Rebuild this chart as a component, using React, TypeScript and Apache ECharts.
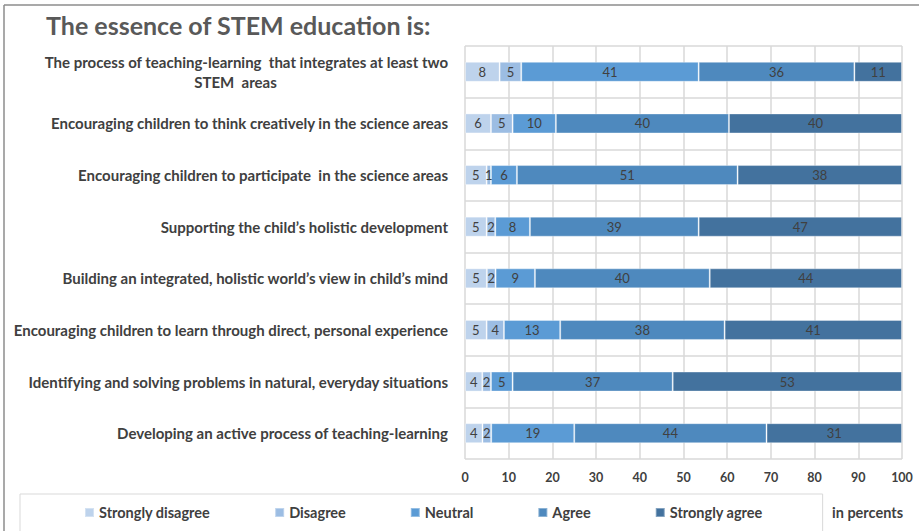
import React, { useEffect, useRef } from "react";
import * as echarts from "echarts";

const categories = [
  "The process of teaching-learning  that integrates at least two\nSTEM  areas",
  "Encouraging children to think creatively in the science areas",
  "Encouraging children to participate  in the science areas",
  "Supporting the child\u2019s holistic development",
  "Building an integrated, holistic world\u2019s view in child\u2019s mind",
  "Encouraging children to learn through direct, personal experience",
  "Identifying and solving problems in natural, everyday situations",
  "Developing an active process of teaching-learning",
];

const seriesNames = ["Strongly disagree", "Disagree", "Neutral", "Agree", "Strongly agree"];
const stronglyDisagree = [8, 6, 5, 5, 5, 5, 4, 4];
const disagree = [5, 5, 1, 2, 2, 4, 2, 2];
const neutral = [41, 10, 6, 8, 9, 13, 5, 19];
const agree = [36, 40, 51, 39, 40, 38, 37, 44];
const stronglyAgree = [11, 40, 38, 47, 44, 41, 53, 31];
const xTicks = [0, 10, 20, 30, 40, 50, 60, 70, 80, 90, 100];

const colors = ["#bed3ec", "#9cbde3", "#5b9bd5", "#4e89be", "#43729e"];

const FONT = "Lato, 'Open Sans', sans-serif";

export default function App() {
  const ref = useRef<HTMLDivElement>(null);
  useEffect(() => {
    if (!ref.current) return;
    const chart = echarts.init(ref.current, null, { renderer: "svg" });
    const all = [stronglyDisagree, disagree, neutral, agree, stronglyAgree];
    const totals = categories.map((_, i) => all.reduce((s, arr) => s + arr[i], 0));
    const series = all.map((arr, si) => ({
      name: seriesNames[si],
      type: "bar",
      stack: "total",
      barWidth: 20,
      itemStyle: { color: colors[si], borderColor: "rgba(255,255,255,0.35)", borderWidth: 1 },
      label: {
        show: true,
        position: "inside",
        color: "#404040",
        fontFamily: FONT,
        fontSize: 13,
        formatter: (p: any) => String(arr[p.dataIndex]),
      },
      data: arr.map((v, i) => (v / totals[i]) * 100),
    }));

    const labelStyle = { color: "#404040", fontFamily: FONT, fontSize: 15, fontWeight: "bold", lineHeight: 20 };

    chart.setOption({
      animation: false,
      backgroundColor: "#ffffff",
      title: {
        text: "The essence of STEM education is:",
        left: 41,
        top: 7,
        textStyle: { fontFamily: FONT, fontSize: 25, fontWeight: "bold", color: "#595959" },
      },
      grid: { left: 465, right: 17, top: 46, bottom: 72, containLabel: false },
      xAxis: {
        type: "value",
        min: 0,
        max: 100,
        interval: 10,
        axisLine: { show: false },
        axisTick: { show: false },
        splitLine: { show: true, lineStyle: { color: "#d9d9d9", width: 1.5 } },
        axisLabel: {
          color: "#404040",
          fontFamily: FONT,
          fontSize: 12.5,
          fontWeight: "bold",
          margin: 12,
          formatter: (v: number) => (xTicks.includes(v) ? String(v) : ""),
        },
      },
      yAxis: {
        type: "category",
        inverse: true,
        data: categories,
        axisLine: { show: false },
        axisTick: { show: false },
        splitLine: { show: true, lineStyle: { color: "#d9d9d9", width: 1.5 } },
        axisLabel: {
          margin: 17,
          ...labelStyle,
          formatter: (v: string) => {
            const parts = v.split("\n");
            if (parts.length === 1) return v;
            return "{a|" + parts[0] + "}\n{b|" + parts[1] + "}";
          },
          rich: {
            a: { ...labelStyle },
            b: { ...labelStyle, width: 425, align: "center" },
          },
        },
      },
      legend: {
        left: 20,
        top: 494,
        padding: [11, 60, 20, 64],
        itemGap: 64,
        itemWidth: 9,
        itemHeight: 9,
        icon: "rect",
        borderColor: "#d9d9d9",
        borderWidth: 1,
        textStyle: { color: "#404040", fontFamily: FONT, fontSize: 14.5, fontWeight: "bold" },
        data: seriesNames,
      },
      graphic: [
        {
          type: "text",
          left: 832,
          top: 505,
          style: { text: "in percents", fill: "#404040", font: "bold 14.5px " + FONT },
        },
        {
          type: "line",
          shape: { x1: 4, y1: 5, x2: 919, y2: 5 },
          style: { stroke: "#8c8c8c", lineWidth: 1.5 },
        },
        {
          type: "line",
          shape: { x1: 4, y1: 5, x2: 4, y2: 531 },
          style: { stroke: "#8c8c8c", lineWidth: 1.5 },
        },
      ],
      series,
    });
    return () => chart.dispose();
  }, []);
  return (
    <div
      ref={ref}
      style={{ position: "absolute", left: 0, top: 0, width: 919, height: 531 }}
    />
  );
}
